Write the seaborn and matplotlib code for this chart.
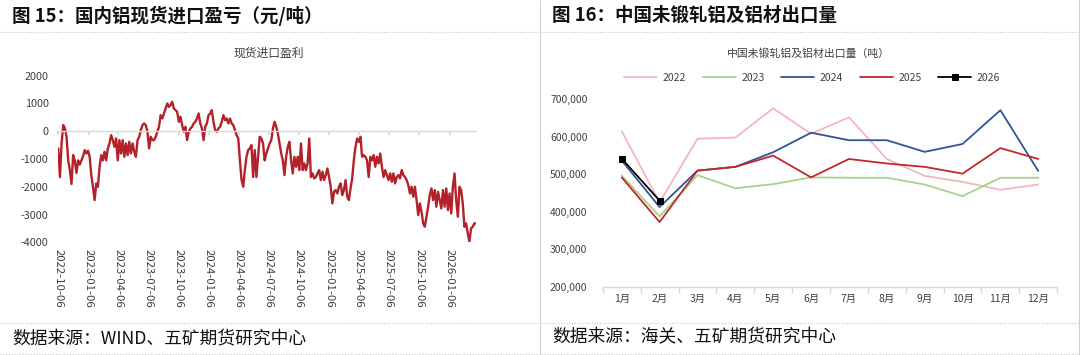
import numpy as np
import pandas as pd
import matplotlib
matplotlib.use("Agg")
from matplotlib import pyplot as plt
from matplotlib.lines import Line2D
import seaborn as sns

# ---- left: 现货进口盈利 (元/吨) ----
profit = [
    -620, -1650, -440, 220, 100, -200, -1050, -1400, -1900, -860, -1050, -1500, -1050, -1200,
    -1050, -900, -680, -800, -700, -920, -1580, -2000, -2480, -1880, -2000, -1280, -860, -1050,
    -740, -1050, -620, -440, -140, -320, -560, -260, -1050, -320, -800, -320, -920, -440, -860,
    -380, -800, -440, -740, -920, -320, -200, 40, 220, 280, 220, -20, -620, -200, -320,
    -320, -200, -20, 160, 580, 460, 640, 820, 1000, 880, 940, 1060, 820, 760, 700, 340, 520,
    220, -20, 160, -320, -20, 100, 160, 280, 340, 460, 640, 280, 100, -320, 160, 280, 580, 640,
    760, 340, 40, -20, 100, 160, 340, 580, 400, 460, 280, 460, 280, 220, 40, -140, -260, -1050,
    -1760, -2000, -1400, -920, -680, -620, -500, -1650, -680, -1650, -920,
    -200, -260, -440, -1050, -800, -620, -440, -320, 100, 340, 160, -80, -440, -800, -1050,
    -1580, -920, -560, -380, -1050, -1520, -920, -1280, -920, -1400, -440, -1400, -1160, -1400,
    -1160, -260, -1650, -1520, -1700, -1650, -1520, -1400, -1760, -1460, -1760, -1580, -1340,
    -1650, -2000, -2600, -2180, -2120, -2240, -2000, -1880, -2300, -2120, -1760, -2360, -2480,
    -2060, -1700, -1050, -560, -260, -380, -200, -920,
    -860, -920, -1050, -1650, -920, -1050, -860, -1280, -920, -1160, -800, -1280, -1650, -1400,
    -1580, -1760, -1520, -1820, -1520, -1880, -1650, -1580, -1700, -1400, -1580, -1650, -1760,
    -1940, -2240, -2000, -2360, -2000, -2480, -3020, -2600, -2900, -3320, -3440, -3080, -2720,
    -2300, -2060, -2480, -2120, -2720, -2180, -2480, -2780, -2120, -2720, -2060, -2840, -2240,
    -2960, -2000, -1520, -2480, -3080, -2000, -2120, -2600, -3440, -3320, -3680, -3980, -3500,
    -3440, -3320, -3320,
]
profit_start, profit_end = "2022-10-06", "2026-03-27"
date_ticks = ["2022-10-06", "2023-01-06", "2023-04-06", "2023-07-06", "2023-10-06",
              "2024-01-06", "2024-04-06", "2024-07-06", "2024-10-06", "2025-01-06",
              "2025-04-06", "2025-07-06", "2025-10-06", "2026-01-06"]
profit_yticks = [-4000, -3000, -2000, -1000, 0, 1000, 2000]

# ---- right: 中国未锻轧铝及铝材出口量 (吨) ----
months = ["1月", "2月", "3月", "4月", "5月", "6月", "7月", "8月", "9月", "10月", "11月", "12月"]
export_2022 = [615000, 425000, 595000, 598000, 676000, 608000, 652000, 541000, 496000, 480000, 459000, 473000]
export_2023 = [497000, 388000, 498000, 463000, 474000, 492000, 491000, 491000, 473000, 442000, 491000, 491000]
export_2024 = [537000, 413000, 510000, 520000, 559000, 611000, 591000, 591000, 560000, 581000, 671000, 509000]
export_2025 = [492000, 373000, 510000, 520000, 550000, 492000, 541000, 529000, 520000, 502000, 570000, 541000]
export_2026 = [542000, 430000]
export_yticks = [200000, 300000, 400000, 500000, 600000, 700000]

sns.set_theme(style="white")
plt.rcParams["font.family"] = ["Noto Sans CJK SC", "DejaVu Sans"]
plt.rcParams["axes.unicode_minus"] = False

W, H = 1080, 355
fig = plt.figure(figsize=(W / 100, H / 100), dpi=100)


def fx(px):
    return px / W


def fy(py):
    return 1 - py / H


tick_color = "#404040"

# ---------------- left panel ----------------
ax1 = fig.add_axes([fx(58.3), fy(242.3), fx(476 - 58.3), (242.3 - 75.7) / H])
dates = pd.date_range(profit_start, profit_end, periods=len(profit))
sns.lineplot(x=dates, y=profit, color="#B2222A", lw=1.7, ax=ax1)
ax1.set_xlim(dates[0], dates[-1])
ax1.set_ylim(-4000, 2000)
for s in ["left", "right", "bottom"]:
    ax1.spines[s].set_visible(False)
ax1.spines["top"].set_position(("data", 0))
ax1.spines["top"].set_color("#D9D9D9")
ax1.spines["top"].set_linewidth(1.0)
ax1.tick_params(axis="x", top=True, bottom=False, labeltop=False, labelbottom=True,
                direction="in", length=3, color="#D9D9D9", pad=5,
                labelsize=8, labelcolor=tick_color, labelrotation=-90)
ax1.tick_params(axis="y", length=0, pad=7, labelsize=7.8, labelcolor=tick_color)
ax1.set_yticks(profit_yticks)
ax1.set_yticklabels([str(v) for v in profit_yticks])
ax1.set_xticks(pd.to_datetime(date_ticks))
ax1.set_xticklabels(date_ticks, rotation=-90, fontsize=8.2, color=tick_color, va="top", ha="center")
ax1.grid(False)
ax1.set_xlabel("")
ax1.set_ylabel("")
fig.text(fx(269), fy(52.7), "现货进口盈利", fontsize=8.5, color=tick_color, ha="center", va="center")

# ---------------- right panel ----------------
ax2 = fig.add_axes([fx(602.8), fy(287), fx(1057.2 - 602.8), (287 - 99.3) / H])
series = [("2022", export_2022, "#F4B6BE", None),
          ("2023", export_2023, "#A9D18E", None),
          ("2024", export_2024, "#2F5597", None),
          ("2025", export_2025, "#C0282D", None),
          ("2026", export_2026, "#000000", "s")]
for name, vals, col, mk in series:
    sns.lineplot(x=months[:len(vals)], y=vals, color=col, lw=1.3, marker=mk, markersize=5,
                 markeredgecolor=col, sort=False, label=name, ax=ax2)
ax2.set_xlim(-0.5, 11.5)
ax2.set_ylim(200000, 700000)
for s in ["left", "right", "top"]:
    ax2.spines[s].set_visible(False)
ax2.spines["bottom"].set_color("#D9D9D9")
ax2.spines["bottom"].set_linewidth(1.0)
ax2.tick_params(axis="x", which="major", length=0, pad=5, labelsize=7.5, labelcolor=tick_color)
ax2.tick_params(axis="x", which="minor", bottom=True, length=4, color="#D9D9D9", direction="out")
ax2.tick_params(axis="y", length=0, pad=11, labelsize=7.5, labelcolor=tick_color)
ax2.set_yticks(export_yticks)
ax2.set_yticklabels([f"{v:,}" for v in export_yticks])
ax2.set_xticks(range(len(months)))
ax2.set_xticklabels(months)
ax2.set_xticks(np.arange(-0.5, 12, 1), minor=True)
ax2.grid(False)
ax2.set_xlabel("")
ax2.set_ylabel("")
handles, labels = ax2.get_legend_handles_labels()
ax2.legend(handles, labels, loc="center", bbox_to_anchor=(fx(812), fy(78)),
           bbox_transform=fig.transFigure, ncol=5, frameon=False, fontsize=7.5,
           handlelength=3.2, handletextpad=0.5, columnspacing=1.6, labelcolor=tick_color)
fig.text(fx(809), fy(54), "中国未锻轧铝及铝材出口量（吨）", fontsize=7.8, color=tick_color,
         ha="center", va="center")

# ---------------- headers, footers, frame ----------------
fig.text(fx(12), fy(15.7), "图 15：国内铝现货进口盈亏（元/吨）", fontsize=13.3, fontweight="bold",
         color="#111111", ha="left", va="center")
fig.text(fx(552), fy(15.7), "图 16：中国未锻轧铝及铝材出口量", fontsize=13.3, fontweight="bold",
         color="#111111", ha="left", va="center")
fig.text(fx(12), fy(338), "数据来源：WIND、五矿期货研究中心", fontsize=12.8,
         color="#111111", ha="left", va="center")
fig.text(fx(552), fy(337), "数据来源：海关、五矿期货研究中心", fontsize=12.8,
         color="#111111", ha="left", va="center")

dot = dict(color="#C8C8C8", lw=0.8, linestyle=(0, (1, 1.5)), transform=fig.transFigure)
for x0, x1 in [(0, 538), (541, 1078)]:
    for yy in [31.7, 322.5, 353.5]:
        fig.add_artist(Line2D([fx(x0), fx(x1)], [fy(yy), fy(yy)], **dot))
for xx in [539.5, 1078.5]:
    fig.add_artist(Line2D([fx(xx), fx(xx)], [0, 1], color="#D0D0D0", lw=0.8,
                          transform=fig.transFigure))

fig.savefig("out.png", dpi=100)
